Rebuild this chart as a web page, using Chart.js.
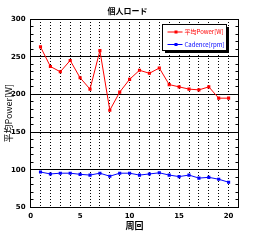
<!DOCTYPE html>
<html lang="ja">
<head>
    <meta charset="UTF-8">
    <title>個人ロード</title>
    <script src="https://cdn.jsdelivr.net/npm/chart.js"></script>
    <style>
        html, body { margin: 0; padding: 0; background: #fff; }
        #wrap { width: 270px; height: 240px; }
    </style>
</head>
<body>
    <div id="wrap"><canvas id="lapChart" width="270" height="240"></canvas></div>

    <script>
        // 周回ごとのデータ
        const laps = [1, 2, 3, 4, 5, 6, 7, 8, 9, 10, 11, 12, 13, 14, 15, 16, 17, 18, 19, 20];
        const powerW = [263, 237, 230, 245, 222, 207, 258, 179, 203, 220, 232, 228, 235, 213, 210, 207, 206, 210, 195, 195];
        const cadenceRpm = [97, 94.5, 95.5, 95.5, 94, 93, 95.5, 91.5, 95.5, 95.5, 93, 94.5, 96, 93, 91, 93, 89, 90, 87.5, 83.5];
        const xTickLabels = [0, 5, 10, 15, 20];
        const yTickLabels = [50, 100, 150, 200, 250, 300];

        const jp = "'Noto Sans CJK JP', sans-serif";
        const num = "'DejaVu Sans', sans-serif";

        function toPoints(values) {
            return laps.map((lap, i) => ({ x: lap, y: values[i] }));
        }

        // 枠と内向きの目盛り
        const framePlugin = {
            id: 'frame',
            afterDraw(chart) {
                const ctx = chart.ctx;
                const xs = chart.scales.x, ys = chart.scales.y;
                const l = Math.round(xs.getPixelForValue(xs.min) - 0.5) + 0.5;
                const r = Math.round(xs.getPixelForValue(xs.max) - 0.5) + 0.5;
                const t = Math.round(ys.getPixelForValue(ys.max) - 0.5) + 0.5;
                const b = Math.round(ys.getPixelForValue(ys.min) - 0.5) + 0.5;
                ctx.save();
                ctx.strokeStyle = '#000';
                ctx.lineWidth = 1;
                ctx.strokeRect(l, t, r - l, b - t);
                ctx.beginPath();
                for (let v = ys.min + 10; v < ys.max; v += 10) {
                    const y = Math.round(ys.getPixelForValue(v) - 0.5) + 0.5;
                    ctx.moveTo(l, y); ctx.lineTo(l + 3, y);
                    ctx.moveTo(r, y); ctx.lineTo(r - 3, y);
                }
                ctx.stroke();
                ctx.restore();
            }
        };

        // 凡例（グラフ内右上、影付き）
        const boxLegend = {
            id: 'boxLegend',
            afterDraw(chart) {
                const ctx = chart.ctx;
                const area = chart.chartArea;
                const w = 64, h = 26;
                const bx = Math.round(area.right - 12.5 - w) + 0.5;
                const by = Math.round(area.top + 5) + 0.5;
                ctx.save();
                ctx.fillStyle = '#000';
                ctx.fillRect(bx + 2.5, by + 2.5, w, h);
                ctx.fillStyle = '#fff';
                ctx.fillRect(bx, by, w, h);
                ctx.strokeStyle = '#000';
                ctx.lineWidth = 1;
                ctx.strokeRect(bx, by, w, h);

                ctx.font = '6px ' + jp;
                ctx.textBaseline = 'middle';
                chart.data.datasets.forEach((ds, i) => {
                    const y = by + 7.5 + i * 12.5;
                    ctx.strokeStyle = ds.borderColor;
                    ctx.beginPath();
                    ctx.moveTo(bx + 5, y);
                    ctx.lineTo(bx + 20, y);
                    ctx.stroke();
                    ctx.fillStyle = ds.borderColor;
                    ctx.fillRect(bx + 12, y - 1.5, 3, 3);
                    ctx.fillText(ds.label, bx + 22, y);
                });
                ctx.restore();
            }
        };

        new Chart(document.getElementById('lapChart'), {
            type: 'line',
            data: {
                datasets: [{
                    label: '平均Power[W]',
                    data: toPoints(powerW),
                    borderColor: '#ff0000',
                    backgroundColor: '#ff0000',
                    borderWidth: 1,
                    pointStyle: 'rect',
                    pointRadius: 2.2,
                    pointBorderWidth: 0,
                    tension: 0
                }, {
                    label: 'Cadence[rpm]',
                    data: toPoints(cadenceRpm),
                    borderColor: '#0000ff',
                    backgroundColor: '#0000ff',
                    borderWidth: 1,
                    pointStyle: 'rect',
                    pointRadius: 2.2,
                    pointBorderWidth: 0,
                    tension: 0
                }]
            },
            options: {
                responsive: false,
                animation: false,
                layout: { padding: { left: 0, right: 15, top: 0, bottom: 0 } },
                plugins: {
                    legend: { display: false },
                    tooltip: { enabled: false },
                    title: {
                        display: true,
                        text: '個人ロード',
                        color: '#000',
                        font: { family: jp, size: 8, weight: 'bold' },
                        padding: { top: 6, bottom: 3.4 }
                    }
                },
                scales: {
                    x: {
                        type: 'linear',
                        min: 0,
                        max: 21,
                        afterFit(scale) { scale.height = 32.5; },
                        ticks: {
                            stepSize: 1,
                            autoSkip: false,
                            maxRotation: 0,
                            minRotation: 0,
                            padding: 4,
                            color: '#000',
                            font: { family: num, size: 7, weight: 'bold' },
                            callback: (v) => xTickLabels.includes(v) ? String(v) : ''
                        },
                        grid: {
                            drawTicks: false,
                            color: (c) => (c.tick && c.tick.value >= 1 && c.tick.value <= 20) ? '#000' : 'rgba(0,0,0,0)',
                            lineWidth: 1
                        },
                        border: { display: false, dash: [1, 2] },
                        title: {
                            display: true,
                            text: '周回',
                            color: '#000',
                            font: { family: jp, size: 9, weight: 'bold' },
                            padding: { top: 0, bottom: 9.1 }
                        }
                    },
                    y: {
                        min: 50,
                        max: 300,
                        afterFit(scale) { scale.width = 30.6; },
                        ticks: {
                            stepSize: 10,
                            autoSkip: false,
                            padding: 5,
                            color: '#000',
                            font: { family: num, size: 7, weight: 'bold' },
                            callback: (v) => yTickLabels.includes(v) ? String(v) : ''
                        },
                        grid: {
                            drawTicks: false,
                            color: (c) => (c.tick && c.tick.value % 50 === 0 && c.tick.value > 50 && c.tick.value < 300) ? '#000' : 'rgba(0,0,0,0)',
                            lineWidth: 1
                        },
                        border: { display: false },
                        title: {
                            display: true,
                            text: '平均Power[W]',
                            color: '#000',
                            font: { family: jp, size: 9 },
                            padding: { top: 3.4, bottom: 0 }
                        }
                    },
                    yRight: {
                        position: 'right',
                        min: 50,
                        max: 300,
                        afterFit(scale) { scale.width = 16.5; },
                        ticks: { display: false },
                        grid: { display: false },
                        border: { display: false }
                    }
                }
            },
            plugins: [framePlugin, boxLegend]
        });
    </script>
</body>
</html>
